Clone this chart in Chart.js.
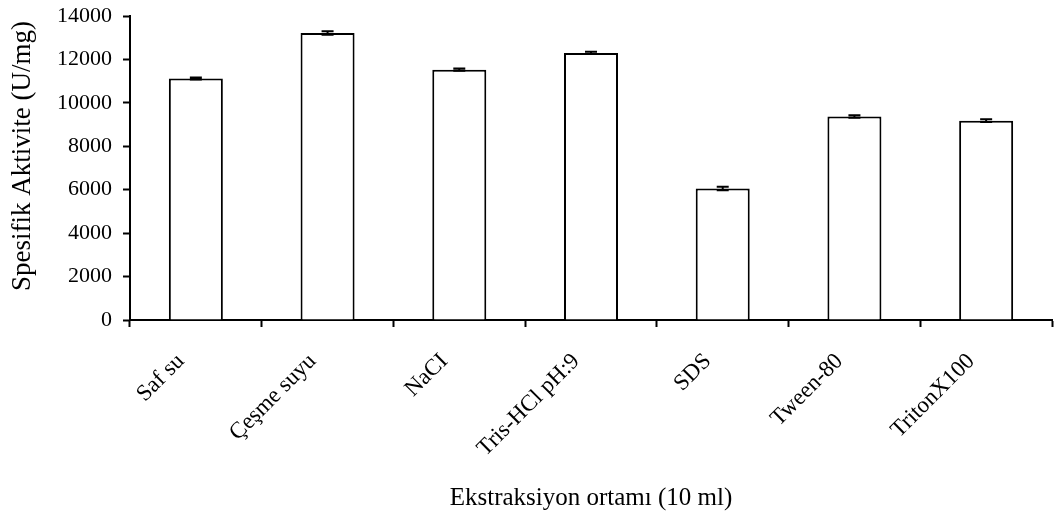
<!DOCTYPE html>
<html>
<head>
<meta charset="utf-8">
<script src="https://cdn.jsdelivr.net/npm/chart.js@4"></script>
<style>
  html, body { margin: 0; padding: 0; background: #fff; }
  #wrap { width: 1054px; height: 515px; position: relative; }
</style>
</head>
<body>
<div id="wrap"><canvas id="aktiviteChart"></canvas></div>
<script>
    "use strict";
    // data
    const categories = ['Saf su', 'Çeşme suyu', 'NaCI', 'Tris-HCl pH:9', 'SDS', 'Tween-80', 'TritonX100'];
    const activity = [11120, 13220, 11530, 12300, 6060, 9370, 9180];
    const activityErr = [50, 80, 50, 50, 80, 60, 60];
    const yTicks = [0, 2000, 4000, 6000, 8000, 10000, 12000, 14000];
    const yTitle = 'Spesifik Aktivite (U/mg)';
    const xTitle = 'Ekstraksiyon ortamı (10 ml)';

    const serif = 'Liberation Serif';

    // small error bar plugin, positions come from the scales
    const errorBars = {
        id: 'errorBars',
        afterDatasetsDraw(chart) {
            const ctx = chart.ctx;
            const meta = chart.getDatasetMeta(0);
            const y = chart.scales.y;
            ctx.save();
            ctx.strokeStyle = '#000';
            ctx.lineWidth = 2;
            meta.data.forEach(function (bar, i) {
                const top = y.getPixelForValue(activity[i] + activityErr[i]);
                const bot = y.getPixelForValue(activity[i] - activityErr[i]);
                const half = 6;
                ctx.beginPath();
                ctx.moveTo(bar.x, top);
                ctx.lineTo(bar.x, bot);
                ctx.moveTo(bar.x - half, top);
                ctx.lineTo(bar.x + half, top);
                ctx.moveTo(bar.x - half, bot);
                ctx.lineTo(bar.x + half, bot);
                ctx.stroke();
            });
            ctx.restore();
        }
    };

    // y title sits a bit above the middle of the plot in the original
    const yTitlePlugin = {
        id: 'yTitlePlugin',
        afterDraw(chart) {
            const ctx = chart.ctx;
            const area = chart.chartArea;
            ctx.save();
            ctx.translate(23, (area.top + area.bottom) / 2 - 12);
            ctx.rotate(-Math.PI / 2);
            ctx.font = '27px "' + serif + '"';
            ctx.fillStyle = '#000';
            ctx.textAlign = 'center';
            ctx.textBaseline = 'middle';
            ctx.fillText(yTitle, 0, 0);
            ctx.restore();
        }
    };

    const data = {
        labels: categories,
        datasets: [
            {
                label: 'Spesifik Aktivite',
                data: activity,
                backgroundColor: '#ffffff',
                borderColor: '#000000',
                borderWidth: 2,
                borderSkipped: 'bottom',
                barPercentage: 1,
                categoryPercentage: 0.41
            }
        ]
    };

    const config = {
        type: 'bar',
        data: data,
        options: {
            responsive: true,
            maintainAspectRatio: false,
            animation: false,
            layout: {
                padding: { left: 8, right: 2, top: 16, bottom: 2 }
            },
            plugins: {
                legend: { display: false },
                tooltip: { enabled: false }
            },
            scales: {
                x: {
                    grid: {
                        offset: true,
                        drawOnChartArea: false,
                        tickLength: 7,
                        tickWidth: 2,
                        tickColor: '#000'
                    },
                    border: { color: '#000', width: 2 },
                    ticks: {
                        color: '#000',
                        font: { family: serif, size: 23 },
                        maxRotation: 45,
                        minRotation: 45,
                        autoSkip: false,
                        labelOffset: -15,
                        padding: 21
                    },
                    title: {
                        display: true,
                        text: xTitle,
                        color: '#000',
                        font: { family: serif, size: 25 },
                        padding: 0
                    },
                    afterFit: function (scale) {
                        scale.height = 193;
                        scale.paddingLeft = 0;
                        scale.paddingRight = 0;
                    }
                },
                y: {
                    min: 0,
                    max: 14000,
                    afterBuildTicks: function (scale) {
                        scale.ticks = yTicks.map(function (v) { return { value: v }; });
                    },
                    grid: {
                        drawOnChartArea: false,
                        tickLength: 7,
                        tickWidth: 2,
                        tickColor: '#000'
                    },
                    border: { color: '#000', width: 2 },
                    ticks: {
                        color: '#000',
                        font: { family: serif, size: 22 },
                        padding: 11,
                        callback: function (value) { return String(value); }
                    },
                    afterFit: function (scale) {
                        scale.width = 122;
                        scale.paddingTop = 0;
                        scale.paddingBottom = 0;
                    }
                }
            }
        },
        plugins: [errorBars, yTitlePlugin]
    };

    new Chart(document.getElementById('aktiviteChart'), config);
</script>
</body>
</html>
